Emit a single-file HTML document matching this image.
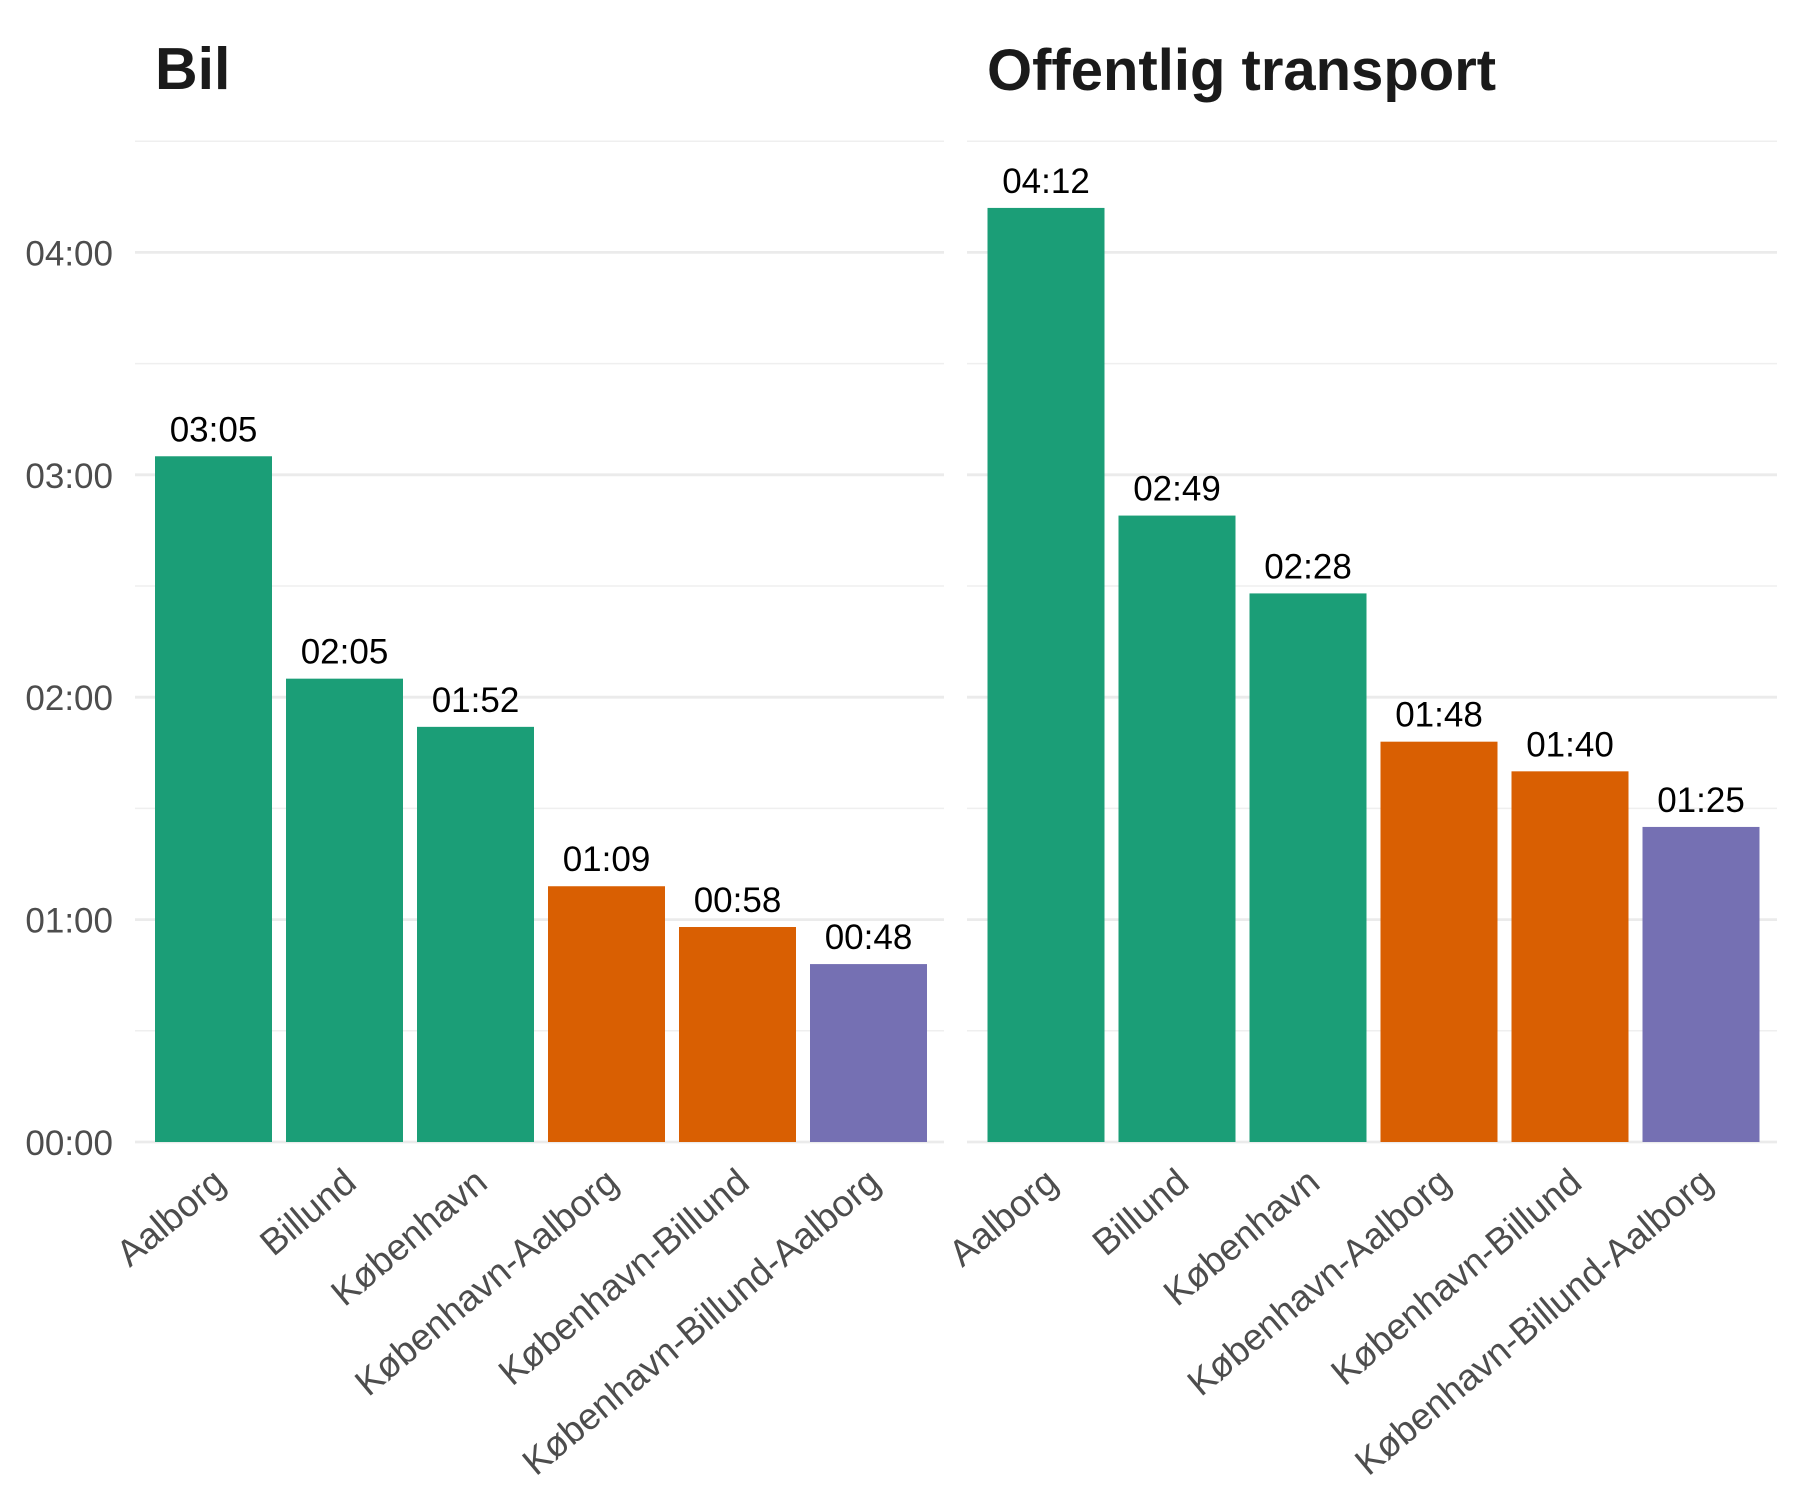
<!DOCTYPE html>
<html><head><meta charset="utf-8"><style>
html,body{margin:0;padding:0;background:#fff}
svg{display:block;font-family:"Liberation Sans",Arial,sans-serif}
</style></head><body>
<svg id="chart" width="1800" height="1500" viewBox="0 0 1800 1500">
<text x="155" y="89" font-size="59" font-weight="bold" fill="#1a1a1a">Bil</text>
<text x="987" y="90" font-size="58" font-weight="bold" fill="#1a1a1a">Offentlig transport</text>
<g id="plot"></g>
</svg>
<script>
const categories = ["Aalborg","Billund","København","København-Aalborg","København-Billund","København-Billund-Aalborg"];
const groups = [0,0,0,1,1,2];
const bilMinutes = [185,125,112,69,58,48];
const offMinutes = [252,169,148,108,100,85];
const bilLabels = ["03:05","02:05","01:52","01:09","00:58","00:48"];
const offLabels = ["04:12","02:49","02:28","01:48","01:40","01:25"];
const yTicks = [0,60,120,180,240];
const yTickLabels = ["00:00","01:00","02:00","03:00","04:00"];
const colors = ["#1b9e77","#d95f02","#7570b3"];

const NS="http://www.w3.org/2000/svg";
const g=document.getElementById('plot');
const zeroY=1142, perMin=222.4/60;
function y(m){return zeroY-m*perMin;}
function mk(t,a){const e=document.createElementNS(NS,t);for(const k in a)e.setAttribute(k,a[k]);g.appendChild(e);return e;}
const panels=[{x0:135,x1:944,c0:213.5,vals:bilMinutes,labs:bilLabels,n:'bil'},{x0:967,x1:1777,c0:1046,vals:offMinutes,labs:offLabels,n:'offentlig'}];
const step=131, bw=117;
function x(p,i){return p.c0+i*step;}
panels.forEach(p=>{
  for(let m=30;m<=270;m+=60){
    const l=mk('line',{x1:p.x0,x2:p.x1,y1:y(m),y2:y(m),stroke:'#efefef','stroke-width':1.5});
    
    
  }
  yTicks.forEach(m=>{
    const l=mk('line',{x1:p.x0,x2:p.x1,y1:y(m),y2:y(m),stroke:'#ebebeb','stroke-width':2.8});
    
    
  });
  p.vals.forEach((v,i)=>{
    const r=mk('rect',{x:x(p,i)-bw/2,y:y(v),width:bw,height:y(0)-y(v),fill:colors[groups[i]]});
    
    
    const t=mk('text',{x:x(p,i),y:y(v)-15,'text-anchor':'middle','font-size':35,fill:'#000'});
    t.textContent=p.labs[i];
    
    
    const cx=x(p,i)+14, cy=1186;
    const xl=mk('text',{x:cx,y:cy,'text-anchor':'end','font-size':37,fill:'#4d4d4d',transform:'rotate(-40 '+cx+' '+cy+')'});
    xl.textContent=categories[i];
    
    
  });
});
yTicks.forEach((m,i)=>{
  const t=mk('text',{x:113,y:y(m)+13,'text-anchor':'end','font-size':35,fill:'#4d4d4d'});
  t.textContent=yTickLabels[i];
  
  
});
</script>
</body></html>
